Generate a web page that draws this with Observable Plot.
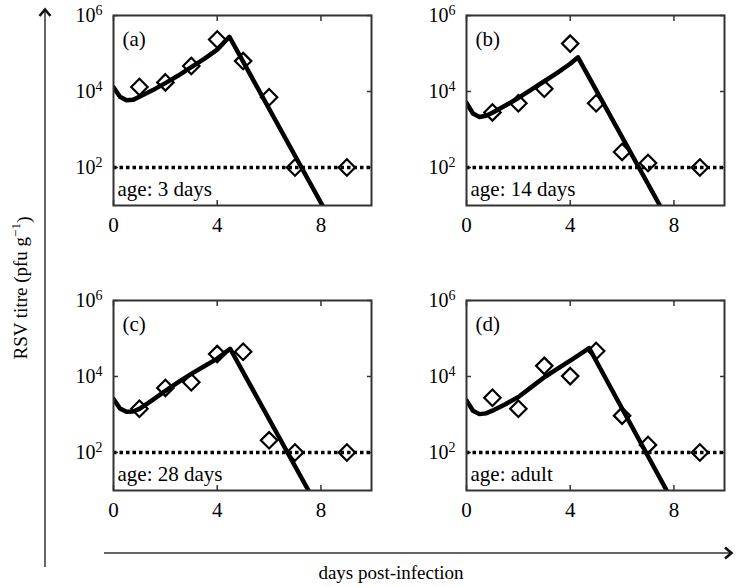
<!DOCTYPE html>
<html><head><meta charset="utf-8">
<script src="https://cdn.jsdelivr.net/npm/d3@7"></script>
<script src="https://cdn.jsdelivr.net/npm/@observablehq/plot@0.6"></script>
<style>
body{margin:0;background:#fff;}
#chart{position:relative;width:736px;height:587px;color:#000;font-family:'Liberation Serif',serif;}
#chart .panel{position:absolute;}
</style></head><body><div id="chart"></div>
<script>
// ---- data ----
const panelLetters = ["a", "b", "c", "d"];
const panelAges = ["age: 3 days", "age: 14 days", "age: 28 days", "age: adult"];
const sampleDays = [1, 2, 3, 4, 5, 6, 7, 9];
// observed RSV titre, log10(pfu/g)
const log10Titre_a = [4.12, 4.24, 4.67, 5.37, 4.80, 3.85, 2.0, 2.0];
const log10Titre_b = [3.45, 3.69, 4.07, 5.26, 3.69, 2.41, 2.12, 2.0];
const log10Titre_c = [3.15, 3.70, 3.85, 4.59, 4.65, 2.32, 2.0, 2.0];
const log10Titre_d = [3.44, 3.15, 4.28, 4.01, 4.67, 2.97, 2.20, 2.0];
// model curve [day, log10 titre]
const model_a = [[0,4.11],[0.25,3.86],[0.5,3.77],[0.75,3.78],[1,3.86],[1.5,4.03],[2,4.22],[2.5,4.42],[3,4.64],[3.5,4.86],[4,5.10],[4.47,5.44],[8.06,1.0]];
const model_b = [[0,3.70],[0.25,3.42],[0.5,3.33],[0.75,3.36],[1,3.44],[1.5,3.63],[2,3.83],[2.5,4.05],[3,4.27],[3.5,4.49],[4,4.73],[4.3,4.90],[7.46,1.0]];
const model_c = [[0,3.41],[0.25,3.16],[0.5,3.07],[0.75,3.08],[1,3.15],[1.5,3.38],[2,3.62],[2.5,3.85],[3,4.07],[3.5,4.27],[4,4.47],[4.5,4.73],[7.52,1.0]];
const model_d = [[0,3.37],[0.25,3.10],[0.5,3.01],[0.75,3.03],[1,3.10],[1.5,3.27],[2,3.46],[2.5,3.72],[3,3.98],[3.5,4.20],[4,4.42],[4.5,4.64],[4.73,4.75],[7.72,1.0]];
const detectionLimit = 100;
const xTicks = [0, 4, 8];
const yTicks = [1e2, 1e4, 1e6];
const xDomain = [0, 9.95];
const yDomain = [10, 1e6];
const xTitle = "days post-infection";
const yTitleMain = "RSV titre (pfu g";
const yTitleSup = "−1";
const yTitleEnd = ")";

const observed = [log10Titre_a, log10Titre_b, log10Titre_c, log10Titre_d];
const models = [model_a, model_b, model_c, model_d];
const positions = [[53, 0], [405.7, 0], [53, 285], [405.7, 285]];

const chart = document.getElementById("chart");
const SERIF = "Liberation Serif";

function makePanel(i) {
  const obs = sampleDays.map((d, j) => ({day: d, titre: 10 ** observed[i][j]}));
  const model = models[i].map(([d, l]) => ({day: d, titre: 10 ** l}));
  const svg = Plot.plot({
    width: 326, height: 245,
    marginLeft: 60, marginRight: 8, marginTop: 15, marginBottom: 40,
    x: {domain: xDomain},
    y: {type: "log", domain: yDomain},
    style: {fontFamily: SERIF, color: "#000", background: "transparent", overflow: "visible"},
    marks: [
      Plot.axisX(xTicks, {anchor: "bottom", tickSize: 0, tickPadding: 12, fontSize: 21, fontFamily: SERIF, label: null, tickFormat: d => String(d)}),
      Plot.axisX(xTicks, {anchor: "bottom", tickSize: -5, fill: "none", stroke: "#333", strokeWidth: 1.5, label: null}),
      Plot.axisX(xTicks, {anchor: "top", tickSize: -5, fill: "none", stroke: "#333", strokeWidth: 1.5, label: null}),
      Plot.axisY(yTicks, {anchor: "left", tickSize: 0, tickPadding: 11, fontSize: 20, fontFamily: SERIF, label: null, tickFormat: d => "10^" + Math.round(Math.log10(d))}),
      Plot.axisY(yTicks, {anchor: "left", tickSize: -5, fill: "none", stroke: "#333", strokeWidth: 1.5, label: null}),
      Plot.axisY(yTicks, {anchor: "right", tickSize: -5, fill: "none", stroke: "#333", strokeWidth: 1.5, label: null}),
      Plot.ruleY([detectionLimit], {stroke: "#000", strokeWidth: 3.6, strokeDasharray: "3.5,3"}),
      Plot.dot(obs, {x: "day", y: "titre", symbol: "diamond2", r: 7.4, stroke: "#000", strokeWidth: 2.2, fill: "none"}),
      Plot.line(model, {x: "day", y: "titre", stroke: "#000", strokeWidth: 4.5, clip: true}),
      Plot.text([panelLetters[i]], {frameAnchor: "top-left", text: d => `(${d})`, dx: 9, dy: 16, fontSize: 21, fontFamily: SERIF, ariaLabel: "panel letter"}),
      Plot.text([panelAges[i]], {frameAnchor: "bottom-left", text: d => d, dx: 4, dy: -10, fontSize: 21, fontFamily: SERIF}),
      Plot.frame({stroke: "#333", strokeWidth: 2})
    ]
  });
  d3.select(svg).attr("font-family", SERIF);
  // superscript exponents on y tick labels
  d3.select(svg).selectAll('g[aria-label="y-axis tick label"] text').each(function () {
    const t = this.textContent;
    if (t.includes("^")) {
      const [b, e] = t.split("^");
      this.textContent = "";
      const s = d3.select(this);
      s.append("tspan").text(b);
      s.append("tspan").attr("dy", "-0.5em").attr("font-size", "70%").text(e);
    }
  });
  // italic panel letter
  d3.select(svg).selectAll('g[aria-label="panel letter"] text').each(function () {
    const t = this.textContent;
    this.textContent = "";
    const s = d3.select(this);
    s.append("tspan").text("(");
    s.append("tspan").attr("font-style", "italic").text(t.slice(1, -1));
    s.append("tspan").text(")");
  });
  const wrap = document.createElement("div");
  wrap.className = "panel";
  wrap.style.left = positions[i][0] + "px";
  wrap.style.top = positions[i][1] + "px";
  wrap.appendChild(svg);
  chart.appendChild(wrap);
}
for (let i = 0; i < 4; i++) makePanel(i);

// decorative axis arrows and titles
const over = d3.select(chart).append("svg")
  .attr("width", 736).attr("height", 587).attr("font-family", SERIF)
  .style("position", "absolute").style("left", "0px").style("top", "0px")
  .style("pointer-events", "none");
const ink = "#333";
over.append("line").attr("x1", 45).attr("y1", 567).attr("x2", 45).attr("y2", 9).attr("stroke", ink).attr("stroke-width", 1.5);
over.append("path").attr("d", "M39.5,16 L45,9.5 L50.5,16").attr("fill", "none").attr("stroke", "#111").attr("stroke-width", 2.6);
over.append("line").attr("x1", 104).attr("y1", 553).attr("x2", 732).attr("y2", 553).attr("stroke", ink).attr("stroke-width", 1.5);
over.append("path").attr("d", "M725,547.5 L731.5,553 L725,558.5").attr("fill", "none").attr("stroke", "#111").attr("stroke-width", 2.6);
over.append("text").attr("x", 391).attr("y", 579).attr("text-anchor", "middle")
  .attr("font-size", 19).attr("font-family", SERIF).attr("fill", "#000").text(xTitle);
const yt = over.append("text").attr("transform", "translate(27,288) rotate(-90)").attr("text-anchor", "middle")
  .attr("font-size", 19).attr("font-family", SERIF).attr("fill", "#000");
yt.append("tspan").text(yTitleMain);
yt.append("tspan").attr("dy", "-0.5em").attr("font-size", "70%").text(yTitleSup);
yt.append("tspan").attr("dy", "0.5em").text(yTitleEnd);
</script>
</body></html>
